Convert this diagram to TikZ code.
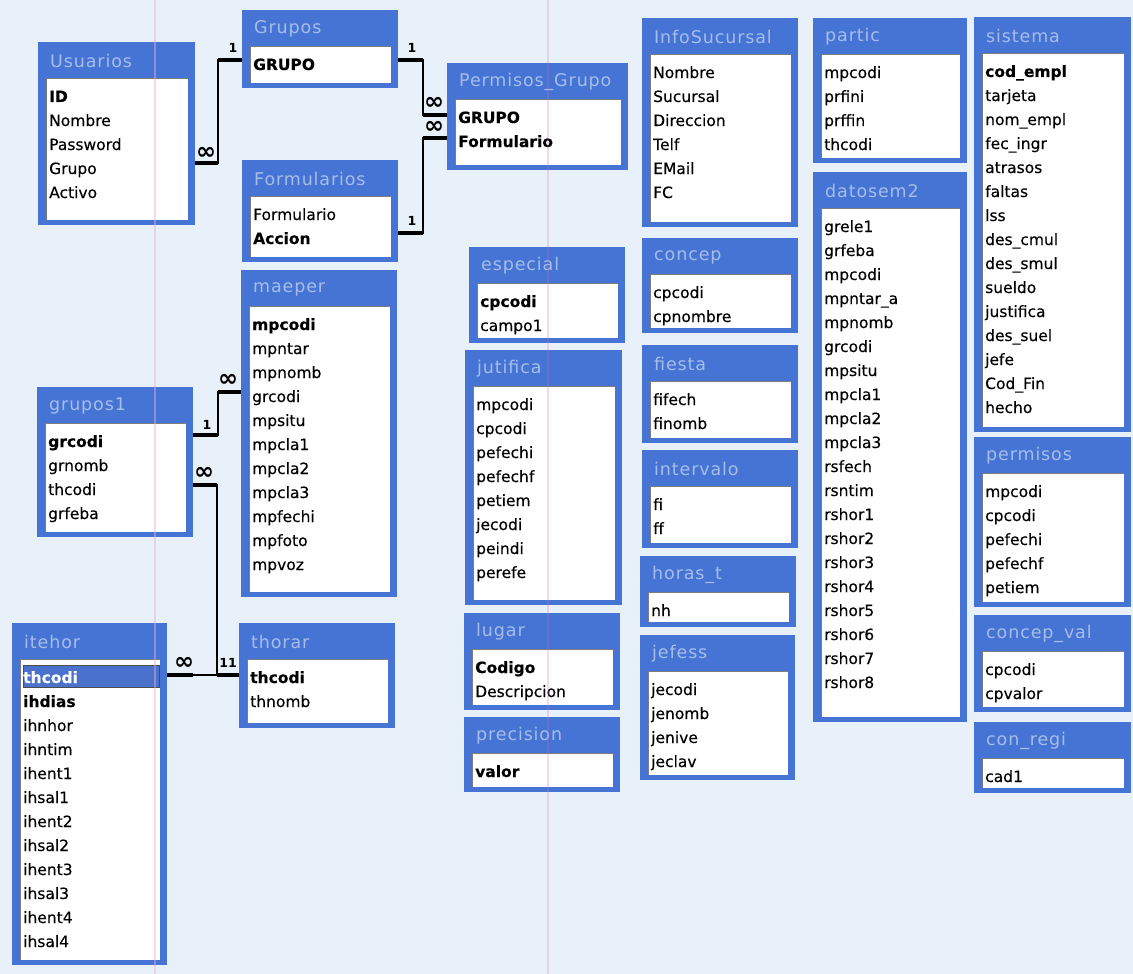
\documentclass[tikz,border=0pt]{standalone}
\usepackage{fontspec}
\setmainfont{DejaVu Sans}
\newfontfamily\titlefont[LetterSpace=5]{DejaVu Sans}
\newfontfamily\fieldfont[FakeBold=0.3]{DejaVu Sans}
\usetikzlibrary{calc}
\definecolor{bg}{RGB}{232,241,250}
\definecolor{frameblue}{RGB}{70,116,212}
\definecolor{titletext}{RGB}{166,189,234}
\definecolor{insetgray}{RGB}{125,125,125}
\definecolor{selblue}{RGB}{74,114,204}
\definecolor{scanpink}{RGB}{236,170,220}

\tikzset{
  tblframe/.style={fill=frameblue, draw=none, anchor=north west, inner sep=0pt, outer sep=0pt},
  tbltitle/.style={anchor=west, inner sep=0pt, text=titletext, font=\titlefont\fontsize{17.5}{20}\selectfont},
  fld/.style={anchor=west, inner sep=0pt, text height=11.5pt, text depth=3.5pt, font=\fieldfont\fontsize{15.5}{18}\selectfont},
  relline/.style={line width=2.2pt, black},
  relstub/.style={line width=4pt, black},
  card/.style={inner sep=0pt, font=\bfseries\fontsize{12.5}{13}\selectfont},
  many/.style={inner sep=0pt, font=\bfseries\fontsize{24}{24}\selectfont},
}

% frame, title bar and sunken field list of one table
\newcommand\dbtable[6]{%
  \node[tblframe, minimum width={#4-#2}, minimum height={#5-#3}] (#1) at (#2,#3) {};
  \fill[white] (#2+8,#3+36) rectangle (#4-7,#5-5);
  \draw[insetgray, line width=1.2pt] (#2+8.6,#5-5) -- (#2+8.6,#3+36.6) -- (#4-7,#3+36.6);
  \node[tbltitle] (#1-title) at (#2+12,#3+19) {#6};
}
% field rows, 24 units apart
\newcommand\dbfields[4]{%
  \foreach \f [count=\i] in {#4} {
    \node[fld] (#1-\i) at (#2+11, #3+56+24*\i-24) {\f};
  }
}

\begin{document}
\begin{tikzpicture}[x=1pt, y=-1pt]
\useasboundingbox (0,0) rectangle (1133,974);
\fill[bg] (0,0) rectangle (1133,974);

% ---- left group
\dbtable{usuarios}{38}{42}{195}{225}{Usuarios}
\dbfields{usuarios}{38}{42}{\textbf{ID},Nombre,Password,Grupo,Activo}

\dbtable{grupos}{242}{10}{398}{88}{Grupos}
\dbfields{grupos}{242}{10}{\textbf{GRUPO}}

\dbtable{formularios}{242}{160}{398}{262}{Formularios}
\dbfields{formularios}{242}{160}{Formulario,\textbf{Accion}}

\dbtable{permgrupo}{447}{63}{628}{170}{Permisos\_Grupo}
\dbfields{permgrupo}{447}{63}{\textbf{GRUPO},\textbf{Formulario}}

\dbtable{maeper}{241}{270}{397}{597}{maeper}
\dbfields{maeper}{241}{270}{\textbf{mpcodi},mpntar,mpnomb,grcodi,mpsitu,mpcla1,mpcla2,mpcla3,mpfechi,mpfoto,mpvoz}

\dbtable{grupos1}{37}{387}{193}{537}{grupos1}
\dbfields{grupos1}{37}{387}{\textbf{grcodi},grnomb,thcodi,grfeba}

\dbtable{itehor}{12}{623}{167}{965}{itehor}
\fill[selblue, draw=black!70, line width=1pt] (23,665) rectangle (159,687);
\dbfields{itehor}{12}{623}{\textcolor{white}{\textbf{thcodi}},\textbf{ihdias},ihnhor,ihntim,ihent1,ihsal1,ihent2,ihsal2,ihent3,ihsal3,ihent4,ihsal4}

\dbtable{thorar}{239}{623}{395}{728}{thorar}
\dbfields{thorar}{239}{623}{\textbf{thcodi},thnomb}

% ---- middle columns
\dbtable{especial}{469}{247}{625}{343}{especial}
\dbfields{especial}{469}{247}{\textbf{cpcodi},campo1}

\dbtable{jutifica}{465}{350}{622}{605}{jutifica}
\dbfields{jutifica}{465}{350}{mpcodi,cpcodi,pefechi,pefechf,petiem,jecodi,peindi,perefe}

\dbtable{lugar}{464}{613}{620}{710}{lugar}
\dbfields{lugar}{464}{613}{\textbf{Codigo},Descripcion}

\dbtable{precision}{464}{717}{620}{792}{precision}
\dbfields{precision}{464}{717}{\textbf{valor}}

\dbtable{infosuc}{642}{18}{798}{227}{InfoSucursal}
\dbfields{infosuc}{642}{18}{Nombre,Sucursal,Direccion,Telf,EMail,FC}

\dbtable{concep}{642}{238}{798}{333}{concep}
\dbfields{concep}{642}{238}{cpcodi,cpnombre}

\dbtable{fiesta}{642}{345}{798}{443}{fiesta}
\dbfields{fiesta}{642}{345}{fifech,finomb}

\dbtable{intervalo}{642}{450}{798}{548}{intervalo}
\dbfields{intervalo}{642}{450}{fi,ff}

\dbtable{horast}{640}{556}{796}{627}{horas\_t}
\dbfields{horast}{640}{556}{nh}

\dbtable{jefess}{640}{635}{795}{780}{jefess}
\dbfields{jefess}{640}{635}{jecodi,jenomb,jenive,jeclav}

% ---- right columns
\dbtable{partic}{813}{18}{967}{163}{partic}
\dbfields{partic}{813}{18}{mpcodi,prfini,prffin,thcodi}

\dbtable{datosem}{813}{172}{967}{722}{datosem2}
\dbfields{datosem}{813}{172}{grele1,grfeba,mpcodi,mpntar\_a,mpnomb,grcodi,mpsitu,mpcla1,mpcla2,mpcla3,rsfech,rsntim,rshor1,rshor2,rshor3,rshor4,rshor5,rshor6,rshor7,rshor8}

\dbtable{sistema}{974}{17}{1131}{432}{sistema}
\dbfields{sistema}{974}{17}{\textbf{cod\_empl},tarjeta,nom\_empl,fec\_ingr,atrasos,faltas,lss,des\_cmul,des\_smul,sueldo,justifica,des\_suel,jefe,Cod\_Fin,hecho}

\dbtable{permisos}{974}{437}{1131}{607}{permisos}
\dbfields{permisos}{974}{437}{mpcodi,cpcodi,pefechi,pefechf,petiem}

\dbtable{concepval}{974}{615}{1131}{712}{concep\_val}
\dbfields{concepval}{974}{615}{cpcodi,cpvalor}

\dbtable{conregi}{974}{722}{1131}{793}{con\_regi}
\dbfields{conregi}{974}{722}{cad1}

% ---- relationships
\coordinate (j1) at (218,0);
\coordinate (j2) at (423,0);
\coordinate (j3) at (217,0);

% Usuarios.Grupo -> Grupos.GRUPO
\coordinate (uA) at ($(usuarios.east|-usuarios-4)+(0,-7)$);
\coordinate (gA) at ($(grupos.west|-grupos-1)+(0,-6)$);
\draw[relline] (uA) -| (j1|-gA) -- (gA);
\draw[relstub] (uA) -- (j1|-uA);
\draw[relstub] (j1|-gA) -- (gA);
\node[many] (m1) at (206,153) {∞};
\node[card] (o1) at (233,48) {1};

% Grupos.GRUPO -> Permisos_Grupo.GRUPO
\coordinate (gB) at ($(grupos.east|-grupos-1)+(0,-6)$);
\coordinate (pA) at ($(permgrupo.west|-permgrupo-1)+(0,-4)$);
\draw[relline] (gB) -| (j2|-pA) -- (pA);
\draw[relstub] (gB) -- (j2|-gB);
\draw[relstub] (j2|-pA) -- (pA);
\node[card] (o2) at (412,48) {1};
\node[many] (m2) at (434,103) {∞};

% Formularios -> Permisos_Grupo.Formulario
\coordinate (fA) at ($(formularios.east|-formularios-2)+(0,-7)$);
\coordinate (pB) at ($(permgrupo.west|-permgrupo-2)+(0,-5)$);
\draw[relline] (fA) -| (j2|-pB) -- (pB);
\draw[relstub] (fA) -- (j2|-fA);
\draw[relstub] (j2|-pB) -- (pB);
\node[card] (o3) at (412,221) {1};
\node[many] (m3) at (434,127) {∞};

% grupos1.grcodi -> maeper.grcodi
\coordinate (rA) at ($(grupos1.east|-grupos1-1)+(0,-8)$);
\coordinate (mA) at ($(maeper.west|-maeper-4)+(0,-6)$);
\draw[relline] (rA) -| (j1|-mA) -- (mA);
\draw[relstub] (rA) -- (j1|-rA);
\draw[relstub] (j1|-mA) -- (mA);
\node[card] (o4) at (207,425) {1};
\node[many] (m4) at (228,380) {∞};

% grupos1.thcodi -> thorar.thcodi
\coordinate (rB) at ($(grupos1.east|-grupos1-3)+(0,-6)$);
\coordinate (tA) at ($(thorar.west|-thorar-1)+(0,-4)$);
\draw[relline] (rB) -| (j3|-tA) -- (tA);
\draw[relstub] (rB) -- (j3|-rB);
\node[many] (m5) at (204,473) {∞};

% itehor.thcodi -> thorar.thcodi
\coordinate (iA) at ($(itehor.east|-itehor-1)+(0,-4)$);
\draw[relline] (iA) -- (tA);
\draw[relstub] (iA) -- ($(iA)+(26,0)$);
\draw[relstub] (j3|-tA) -- (tA);
\node[many] (m6) at (184,663) {∞};
\node[card] (o6) at (228,663) {11};

% faint vertical marks across the sheet
\draw[scanpink, opacity=0.45, line width=1.2pt] (155,0) -- (155,974);
\draw[scanpink!70!violet, opacity=0.25, line width=1.2pt] (548,0) -- (548,974);
\end{tikzpicture}
\end{document}
